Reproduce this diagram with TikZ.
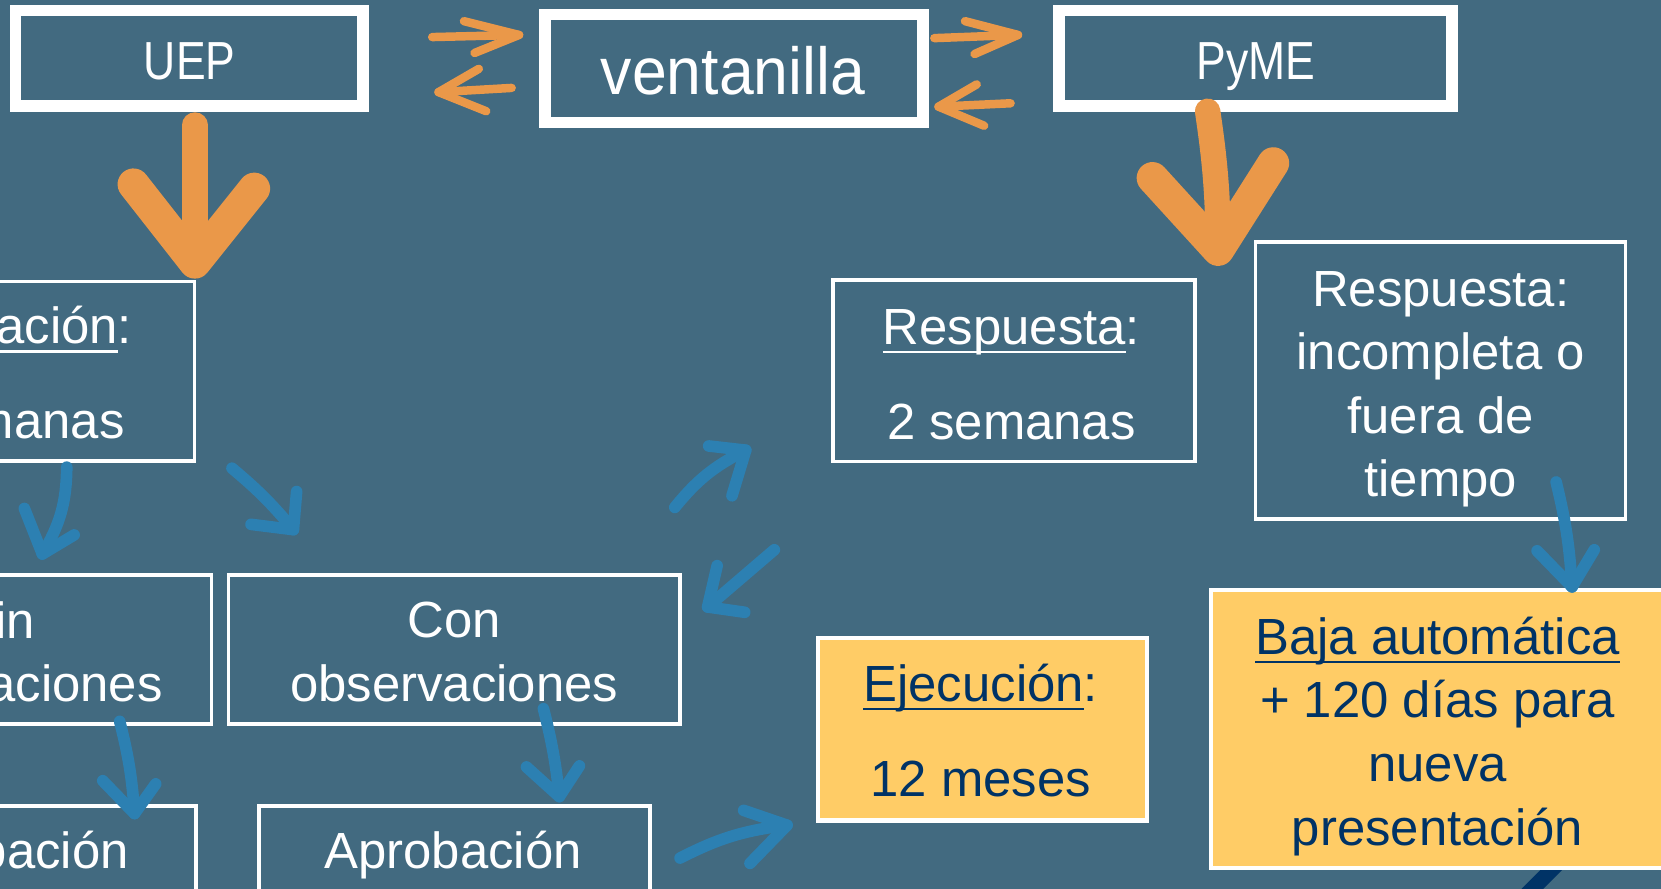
\documentclass[tikz,border=0pt]{standalone}
\usepackage{fontspec}
\setmainfont{Liberation Sans}
\newfontfamily\narrowA[FakeStretch=0.83]{Liberation Sans}
\newfontfamily\narrowB[FakeStretch=0.94]{Liberation Sans}
\usetikzlibrary{calc}
\definecolor{bgc}{RGB}{66,106,128}
\definecolor{orc}{RGB}{234,152,73}
\definecolor{bluc}{RGB}{44,128,178}
\definecolor{yelc}{RGB}{255,204,102}
\definecolor{navc}{RGB}{0,51,102}
\newsavebox\ulbox
\newcommand\myul[1]{\sbox\ulbox{#1}\rlap{\rule[-4.2pt]{\wd\ulbox}{1.2pt}}\usebox\ulbox}
\begin{document}
\begin{tikzpicture}[x=0.5pt,y=-0.5pt,
  thickbox/.style={draw=white, line width=5.5pt, inner sep=0pt},
  thinbox/.style={draw=white, line width=1.7pt, inner sep=0pt},
  yelbox/.style={draw=white, fill=yelc, line width=2pt, inner sep=0pt},
  lbl/.style={text=white, font=\fontsize{24}{30}\selectfont, align=center, anchor=base, inner sep=0pt},
  lblr/.style={lbl, anchor=base east},
  navlbl/.style={lbl, text=navc},
  toplbl/.style={text=white, font=\narrowA\fontsize{25.3}{30}\selectfont, anchor=base, inner sep=0pt},
  orsmall/.style={draw=orc, line width=4pt, line cap=round, line join=round},
  orbig/.style={draw=orc, line width=12pt, line cap=round, line join=round},
  orwing/.style={draw=orc, line width=15pt, line cap=round, line join=round},
  blu/.style={draw=bluc, line width=5.5pt, line cap=round, line join=round}]
\fill[bgc] (0,0) rectangle (1568,839);
\useasboundingbox (0,0) rectangle (1568,839);
\clip (0,0) rectangle (1568,839);
% navy stripe
\fill[navc] (1436.5,839) -- (1457,839) -- (1482,814) -- (1461.5,814) -- cycle;
% boxes
\node[thickbox, minimum width=164.1pt, minimum height=45pt] (uep) at (178.7,54.9) {};
\node[thickbox, minimum width=178.5pt, minimum height=50.9pt] (vent) at (692.9,64.75) {};
\node[thickbox, minimum width=185.35pt, minimum height=45pt] (pyme) at (1185.35,54.9) {};
\node[thinbox, minimum width=111.85pt, minimum height=84.7pt] (eval) at (71.85,350.4) {};
\node[thinbox, minimum width=170.65pt, minimum height=85.6pt] (resp1) at (957.15,350.1) {};
\node[thinbox, minimum width=174.55pt, minimum height=130.9pt] (resp2) at (1359.75,359.2) {};
\node[thinbox, minimum width=119.85pt, minimum height=70.3pt] (sin) at (79.85,613) {};
\node[thinbox, minimum width=213.05pt, minimum height=70.3pt] (con) at (428.75,613) {};
\node[thinbox, minimum width=112.65pt, minimum height=69.65pt] (aprL) at (72.65,830.35) {};
\node[thinbox, minimum width=184.55pt, minimum height=69.65pt] (apr) at (429.25,830.35) {};
\node[yelbox, minimum width=155.35pt, minimum height=86.1pt] (ejec) at (927.35,688.5) {};
\node[yelbox, minimum width=278.25pt, minimum height=131.25pt] (baja) at (1421.75,688.05) {};
% texts (base anchor = baseline of the last line)
\node[toplbl] (uepT) at (179,75.5) {UEP};
\node[toplbl, font=\narrowB\fontsize{31.4}{36}\selectfont] (ventT) at (692,89) {ventanilla};
\node[toplbl] (pymeT) at (1185.5,75.5) {PyME};
\node[lblr] (evalT1) at (125,324.7) {\myul{ación}:};
\node[lblr] (evalT2) at (118,413.6) {manas};
\node[lbl] (resp1T) at (954.75,415) {\myul{Respuesta}:\\[15pt]2 semanas};
\node[lbl] (resp2T) at (1360,469) {Respuesta:\\incompleta o\\fuera de\\tiempo};
\node[lblr] (sinT1) at (33.5,602.6) {in};
\node[lblr] (sinT2) at (154,662) {aciones};
\node[lbl] (conT) at (428.8,662) {Con\\observaciones};
\node[lblr] (aprLT) at (122,819.5) {bación};
\node[lbl] (aprT) at (427.8,819.5) {Aprobación};
\node[navlbl] (ejecT) at (925.8,752) {\myul{Ejecución}:\\[15pt]12 meses};
\node[navlbl] (bajaT) at (1357,797.7) {\myul{Baja automática}\\+ 120 días para\\nueva\\presentación};
% arrow end points
\coordinate (oa1s) at (408,35);   \coordinate (oa1t) at (490,33);
\coordinate (oa2s) at (483,83);   \coordinate (oa2t) at (414,87);
\coordinate (oa3s) at (882,36);   \coordinate (oa3t) at (961,33);
\coordinate (oa4s) at (954,97.5); \coordinate (oa4t) at (886,100.7);
\coordinate (ob1s) at (184,118);  \coordinate (ob1t) at (184,248);
\coordinate (ob2s) at (1140,105); \coordinate (ob2t) at (1150,236);
\coordinate (b1s) at (63,441);  \coordinate (b1t) at (40,523);
\coordinate (b2s) at (219,442); \coordinate (b2t) at (277,500);
\coordinate (b3s) at (637,479); \coordinate (b3t) at (704,425);
\coordinate (b4s) at (731,519); \coordinate (b4t) at (668,573);
\coordinate (b5s) at (113,681); \coordinate (b5t) at (127,768);
\coordinate (b6s) at (513,669); \coordinate (b6t) at (528,752);
\coordinate (b7s) at (642,810); \coordinate (b7t) at (743,779);
\coordinate (b8s) at (1469,455); \coordinate (b8t) at (1484,554);
% orange small arrows
\draw[orsmall] (oa1s) -- (oa1t);
\draw[orsmall] ($(oa1t)+(-52,-13)$) -- (oa1t) -- ($(oa1t)+(-42,17)$);
\draw[orsmall] (oa2s) -- (oa2t);
\draw[orsmall] ($(oa2t)+(38,-22)$) -- (oa2t) -- ($(oa2t)+(45,18)$);
\draw[orsmall] (oa3s) -- (oa3t);
\draw[orsmall] ($(oa3t)+(-50,-13)$) -- (oa3t) -- ($(oa3t)+(-41,18)$);
\draw[orsmall] (oa4s) -- (oa4t);
\draw[orsmall] ($(oa4t)+(36,-21)$) -- (oa4t) -- ($(oa4t)+(43,18)$);
% orange big arrows
\draw[orbig] (ob1s) -- (ob1t);
\draw[orwing] ($(ob1t)+(-58,-74)$) -- (ob1t) -- ($(ob1t)+(56,-70)$);
\draw[orbig] (ob2s) to[bend left=4] (ob2t);
\draw[orwing] ($(ob2t)+(-62,-68)$) -- (ob2t) -- ($(ob2t)+(52,-82)$);
% blue arrows
\draw[blu] (b1s) to[bend left=15] (b1t);
\draw[blu] ($(b1t)+(-17,-43)$) -- (b1t) -- ($(b1t)+(30,-18)$);
\draw[blu] (b2s) to[bend left=5] (b2t);
\draw[blu] ($(b2t)+(-40,-5)$) -- (b2t) -- ($(b2t)+(3,-36)$);
\draw[blu] (b3s) to[bend left=12] (b3t);
\draw[blu] ($(b3t)+(-35,-4)$) -- (b3t) -- ($(b3t)+(-13,43)$);
\draw[blu] (b4s) -- (b4t);
\draw[blu] ($(b4t)+(9,-39)$) -- (b4t) -- ($(b4t)+(35,5)$);
\draw[blu] (b5s) to[bend left=5] (b5t);
\draw[blu] ($(b5t)+(-30,-31)$) -- (b5t) -- ($(b5t)+(20,-28)$);
\draw[blu] (b6s) to[bend left=4] (b6t);
\draw[blu] ($(b6t)+(-31,-28)$) -- (b6t) -- ($(b6t)+(19,-29)$);
\draw[blu] (b7s) to[bend left=10] (b7t);
\draw[blu] ($(b7t)+(-41,-14)$) -- (b7t) -- ($(b7t)+(-35,36)$);
\draw[blu] (b8s) to[bend left=5] (b8t);
\draw[blu] ($(b8t)+(-33,-34)$) -- (b8t) -- ($(b8t)+(21,-35)$);
\end{tikzpicture}
\end{document}
